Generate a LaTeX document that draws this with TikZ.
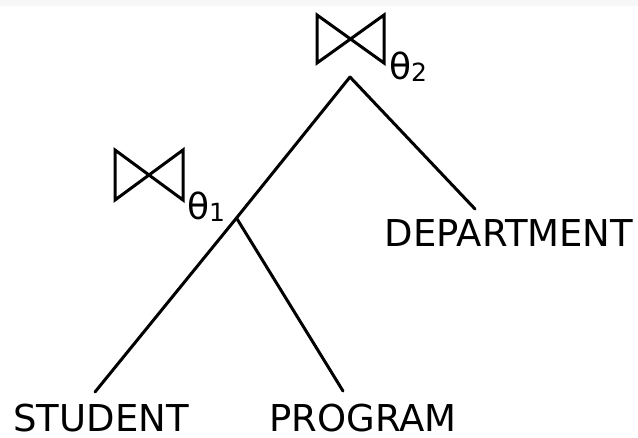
\documentclass[tikz,border=0pt]{standalone}
\usepackage{fontspec}
\setmainfont{DejaVu Sans}
\tikzset{
  edge/.style={line width=3pt, line cap=round},
  joinsym/.style={line width=3pt, line join=miter},
  relname/.style={inner sep=0pt, text depth=0pt, anchor=base, font=\fontsize{37}{37}\selectfont},
  cond/.style={inner sep=0pt, text depth=0pt, anchor=base west, font=\fontsize{36}{36}\selectfont},
}
\newcommand{\condsub}[1]{\raisebox{-2pt}{\fontsize{25}{25}\selectfont #1}}
\begin{document}
\begin{tikzpicture}[x=1pt,y=-1pt]
  \useasboundingbox (0,0) rectangle (638,438);
  \fill[black!3] (0,0) rectangle (638,6);

  % join operators (bowtie) with their conditions
  \draw[joinsym] (317,15) -- (317,63) -- (384,15) -- (384,63) -- cycle;
  \node[cond] (c2) at (389,80) {θ\condsub{2}};
  \draw[joinsym] (115,150) -- (115,200) -- (183,150) -- (183,200) -- cycle;
  \node[cond] (c1) at (187,220) {θ\condsub{1}};

  % tree vertices
  \coordinate (j2) at (350,77);
  \coordinate (j1) at (236.5,218);
  \coordinate (stu) at (95,392);
  \coordinate (pro) at (343,391);
  \coordinate (dep) at (475,209);

  % relation names
  \node[relname] (student) at (101,432) {STUDENT};
  \node[relname] (program) at (363,432) {PROGRAM};
  \node[relname] (department) at (509,247) {DEPARTMENT};

  % edges
  \draw[edge] (j2) -- (j1);
  \draw[edge] (j1) -- (stu);
  \draw[edge] (j1) -- (pro);
  \draw[edge] (j2) -- (dep);
\end{tikzpicture}
\end{document}
